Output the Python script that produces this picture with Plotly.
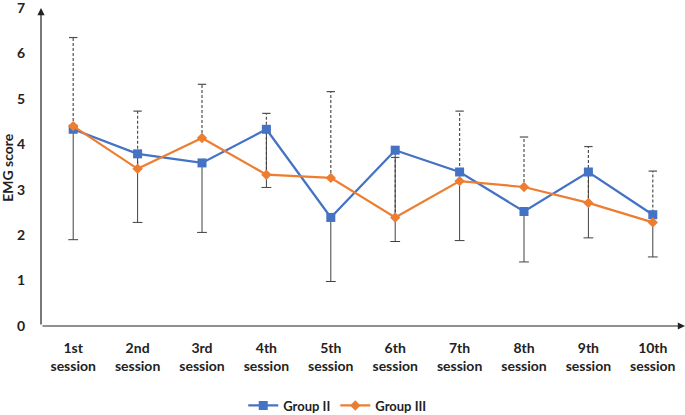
import plotly.graph_objects as go

categories = ["1st<br>session", "2nd<br>session", "3rd<br>session", "4th<br>session", "5th<br>session",
              "6th<br>session", "7th<br>session", "8th<br>session", "9th<br>session", "10th<br>session"]
group2 = [4.33, 3.79, 3.59, 4.33, 2.39, 3.87, 3.39, 2.52, 3.39, 2.45]
group3 = [4.40, 3.46, 4.14, 3.33, 3.26, 2.39, 3.19, 3.06, 2.71, 2.28]
group3_err_plus = [1.95, 1.27, 1.18, 1.35, 1.90, 1.32, 1.54, 1.10, 1.24, 1.13]
group2_err_minus = [2.43, 1.51, 1.53, 1.28, 1.41, 2.01, 1.51, 1.11, 1.45, 0.93]
y_ticks = [0, 1, 2, 3, 4, 5, 6, 7]

BLUE = "#4472C4"
ORANGE = "#ED7D31"
FONT = "Lato"
TXT = "#222222"

fig = go.Figure()

# dashed upper error bars (Group III)
dx, dy = [], []
for c, v, e in zip(categories, group3, group3_err_plus):
    dx += [c, c, None]
    dy += [v, v + e, None]
fig.add_trace(go.Scatter(x=dx, y=dy, mode="lines", line=dict(color="#505050", width=1.2, dash="3px,2px"),
                         showlegend=False, hoverinfo="skip"))
fig.add_trace(go.Scatter(x=categories, y=[v + e for v, e in zip(group3, group3_err_plus)], mode="markers",
                         marker=dict(symbol="line-ew", size=6, line=dict(color="#505050", width=1.2)),
                         showlegend=False, hoverinfo="skip", cliponaxis=False))

# solid lower error bars (Group II)
sx, sy = [], []
for c, v, e in zip(categories, group2, group2_err_minus):
    sx += [c, c, None]
    sy += [v, v - e, None]
fig.add_trace(go.Scatter(x=sx, y=sy, mode="lines", line=dict(color="#404040", width=1),
                         showlegend=False, hoverinfo="skip"))
fig.add_trace(go.Scatter(x=categories, y=[v - e for v, e in zip(group2, group2_err_minus)], mode="markers",
                         marker=dict(symbol="line-ew", size=7, line=dict(color="#404040", width=1)),
                         showlegend=False, hoverinfo="skip", cliponaxis=False))

fig.add_trace(go.Scatter(x=categories, y=group2, mode="lines+markers", name="Group II",
                         line=dict(color=BLUE, width=2.25),
                         marker=dict(symbol="square", size=9, color=BLUE)))
fig.add_trace(go.Scatter(x=categories, y=group3, mode="lines+markers", name="Group III",
                         line=dict(color=ORANGE, width=2.25),
                         marker=dict(symbol="diamond", size=8, color=ORANGE)))

# axis lines with arrows
fig.add_annotation(x=-0.5, y=7, ax=-0.5, ay=0, xref="x", yref="y", axref="x", ayref="y",
                   text="", showarrow=True, arrowhead=2, arrowsize=1.2, arrowwidth=1.2, arrowcolor="#222")
fig.add_annotation(x=9.5, y=0, ax=-0.5, ay=0, xref="x", yref="y", axref="x", ayref="y",
                   text="", showarrow=True, arrowhead=2, arrowsize=1.2, arrowwidth=1.2, arrowcolor="#222")
# y axis title
fig.add_annotation(x=-0.053, y=0.5, xref="paper", yref="paper", text="EMG score", textangle=-90,
                   showarrow=False, xanchor="center", yanchor="middle",
                   font=dict(family=FONT, size=14, color=TXT, weight="bold"))

fig.update_layout(
    width=685, height=415,
    margin=dict(l=41, r=0, t=8, b=89, autoexpand=False),
    paper_bgcolor="white", plot_bgcolor="white",
    font=dict(family=FONT, size=14, color=TXT),
    showlegend=True,
    legend=dict(orientation="h", x=0.46, xanchor="center", y=-0.25, yanchor="middle",
                font=dict(family=FONT, size=13, color=TXT, weight="bold"),
                itemwidth=30, tracegroupgap=0),
    xaxis=dict(type="category", range=[-0.5, 9.5], showgrid=False, zeroline=False, showline=False,
               automargin=False, ticks="outside", ticklen=9, tickcolor="rgba(0,0,0,0)",
               tickfont=dict(family=FONT, size=14, color=TXT, weight="bold")),
    yaxis=dict(range=[0, 7], tickvals=y_ticks, showgrid=False, zeroline=False, showline=False,
               automargin=False, ticks="outside", ticklen=12, tickcolor="rgba(0,0,0,0)",
               ticklabeloverflow="allow",
               tickfont=dict(family=FONT, size=14, color=TXT, weight="bold")),
)

fig.write_html(
    "out.html",
    config={"displayModeBar": False},
    post_script=(
        "var h=document.documentElement,b=document.body;"
        "h.style.margin='0';h.style.padding='0';h.style.overflow='hidden';h.style.height='415px';"
        "b.style.margin='0';b.style.padding='0';b.style.overflow='hidden';b.style.height='415px';"
    ),
)
